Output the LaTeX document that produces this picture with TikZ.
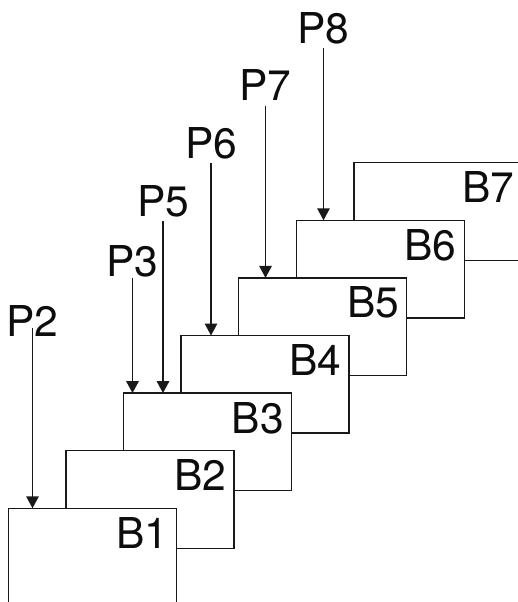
\documentclass[tikz,border=0pt]{standalone}
\usepackage{fontspec}
\setmainfont{TeX Gyre Heros}
\usetikzlibrary{arrows.meta}
\begin{document}
\begin{tikzpicture}[x=1pt,y=-1pt,
  box/.style={draw=black!90, line width=1.4pt, fill=white, anchor=north west,
    minimum width=168pt, minimum height=97.6pt, inner sep=0pt, outer sep=0pt},
  blabel/.style={anchor=base east, inner sep=0pt, text=black!95, font=\fontsize{42.5}{42.5}\selectfont},
  plabel/.style={anchor=base, inner sep=0pt, text=black!95, font=\fontsize{42.5}{42.5}\selectfont},
  arr/.style={draw=black!90, line width=1.4pt, -{Triangle[length=12pt,width=12.5pt]}}]
\useasboundingbox (0,0) rectangle (518,602);
% boxes, back to front
\foreach \i in {7,6,...,1}{
  \node[box] (B\i) at ({8.3+57.6*(\i-1)},{508.3-57.6*(\i-1)}) {};
  \node[blabel] (LB\i) at ([xshift=-7.5pt,yshift=-40pt]B\i.north east) {B\i};
}
% labels
\node[plabel] (P2) at (32.5,336.7) {P2};
\node[plabel] (P3) at (132.5,276.7) {P3};
\node[plabel] (P5) at (163,216.7) {P5};
\node[plabel] (P6) at (211,158.3) {P6};
\node[plabel] (P7) at (265.5,100.7) {P7};
\node[plabel] (P8) at (323.5,44) {P8};
% arrows
\draw[arr] ([yshift=9pt]P2.base) -- (P2.base |- B1.north);
\draw[arr] ([yshift=-1pt]P3.base) -- (P3.base |- B3.north);
\draw[arr] ([yshift=-4.3pt]P5.base) -- (P5.base |- B3.north);
\draw[arr] ([yshift=-5pt]P6.base) -- (P6.base |- B4.north);
\draw[arr] ([yshift=-5pt]P7.base) -- (P7.base |- B5.north);
\draw[arr] ([yshift=-4.3pt]P8.base) -- (P8.base |- B6.north);
\end{tikzpicture}
\end{document}
